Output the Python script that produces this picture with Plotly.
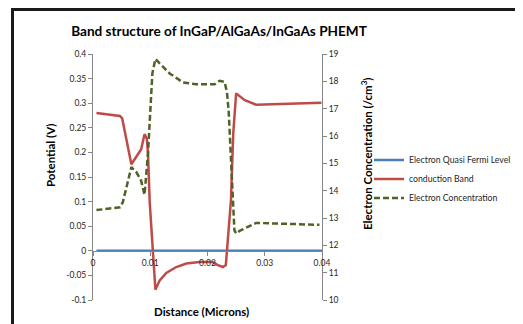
import plotly.graph_objects as go

# ---- data ----
fermi_x = [0.0006, 0.0100, 0.0200, 0.0300, 0.0400]
fermi_y = [0, 0, 0, 0, 0]

band_x = [0.0006, 0.0047, 0.0051, 0.0067, 0.0084, 0.0090, 0.0094, 0.0096, 0.0099,
          0.01045, 0.0107, 0.0109, 0.01165, 0.0128, 0.01455, 0.0163, 0.0186, 0.0209,
          0.0218, 0.0227, 0.0232, 0.0234, 0.0241, 0.0245, 0.0250, 0.0265, 0.0285, 0.0399]
band_y = [0.280, 0.274, 0.269, 0.176, 0.206, 0.237, 0.228, 0.200, 0.100,
          0.000, -0.060, -0.079, -0.060, -0.045, -0.033, -0.026, -0.023, -0.023,
          -0.029, -0.033, -0.029, 0.000, 0.103, 0.239, 0.320, 0.306, 0.297, 0.301]

conc_x = [0.0006, 0.0047, 0.0052, 0.0067, 0.0076, 0.0084, 0.0090, 0.0096, 0.01037,
          0.0109, 0.01164, 0.01339, 0.01571, 0.01805, 0.02124, 0.02211, 0.02298,
          0.0234, 0.0237, 0.0241, 0.0244, 0.0247, 0.02503, 0.0256, 0.02852, 0.03084, 0.03956]
conc_y = [13.29, 13.39, 13.57, 14.86, 14.67, 14.37, 13.85, 15.35, 18.29,
          18.82, 18.66, 18.29, 17.96, 17.89, 17.89, 18.02, 17.98,
          17.60, 16.90, 15.30, 13.60, 12.55, 12.43, 12.53, 12.82, 12.81, 12.75]

left_ticks = [-0.1, -0.05, 0, 0.05, 0.1, 0.15, 0.2, 0.25, 0.3, 0.35, 0.4]
left_labels = ["-0.1", "-0.05", "0", "0.05", "0.1", "0.15", "0.2", "0.25", "0.3", "0.35", "0.4"]
right_ticks = [10, 11, 12, 13, 14, 15, 16, 17, 18, 19]
x_ticks = [0, 0.01, 0.02, 0.03, 0.04]
x_labels = ["0", "0.01", "0.02", "0.03", "0.04"]

FONT = "Lato"
TXT = "#262626"
AX = "#868686"

# the page body adds an 8px offset, so the figure is 8px smaller and shifted
W, H = 515, 316
OFF = 8

fig = go.Figure()
fig.add_trace(go.Scatter(x=fermi_x, y=fermi_y, mode="lines", name="Electron Quasi Fermi Level",
                         line=dict(color="#4A7EBB", width=2.5), yaxis="y"))
fig.add_trace(go.Scatter(x=band_x, y=band_y, mode="lines", name="conduction Band",
                         line=dict(color="#BE4B48", width=2.5), yaxis="y"))
fig.add_trace(go.Scatter(x=conc_x, y=conc_y, mode="lines", name="Electron Concentration",
                         line=dict(color="#4F6228", width=2.5, dash="6px,3px"), yaxis="y2"))

fig.update_layout(
    width=W, height=H,
    margin=dict(l=93 - OFF, r=201, t=54 - OFF, b=24, autoexpand=False),
    paper_bgcolor="white", plot_bgcolor="white",
    font=dict(family=FONT, size=8.5, color=TXT),
    showlegend=True,
    title=dict(text="<b>Band structure of InGaP/AlGaAs/InGaAs PHEMT</b>",
               x=(219 - OFF) / W, xanchor="center", xref="container",
               y=1 - (31 - OFF) / H, yanchor="middle", yref="container",
               font=dict(family=FONT, size=13.6, color="#000000")),
    xaxis=dict(range=[0, 0.04], tickvals=x_ticks, ticktext=x_labels,
               anchor="free", position=0.2, showline=True, linecolor=AX, linewidth=1,
               ticks="outside", ticklen=4, tickcolor=AX, showgrid=False, zeroline=False,
               tickfont=dict(family=FONT, size=8.5, color=TXT)),
    yaxis=dict(range=[-0.1, 0.4], tickvals=left_ticks, ticktext=left_labels,
               showline=True, linecolor=AX, linewidth=1, ticks="outside", ticklen=4,
               tickcolor=AX, showgrid=False, zeroline=False,
               tickfont=dict(family=FONT, size=8.5, color=TXT)),
    yaxis2=dict(range=[10, 19], tickvals=right_ticks, overlaying="y", side="right",
                anchor="x", showline=True, linecolor=AX, linewidth=1, ticks="outside",
                ticklen=4, tickcolor=AX, showgrid=False, zeroline=False,
                tickfont=dict(family=FONT, size=8.5, color=TXT)),
    legend=dict(x=(369 - 93) / 229, xanchor="left", y=1 - (179 - 54) / 246, yanchor="middle",
                font=dict(family=FONT, size=8.7, color=TXT), bgcolor="rgba(0,0,0,0)",
                tracegroupgap=0, borderwidth=0),
)

fig.add_annotation(text="<b>Potential (V)</b>", textangle=-90, showarrow=False,
                   xref="paper", yref="paper", x=(50 - 93) / 229, y=1 - (155 - 54) / 246,
                   xanchor="center", yanchor="middle",
                   font=dict(family=FONT, size=11.5, color="#000000"))
fig.add_annotation(text="<b>Electron Concentration (/cm<sup>3</sup>)</b>", textangle=-90,
                   showarrow=False, xref="paper", yref="paper",
                   x=(366 - 93) / 229, y=1 - (154 - 54) / 246,
                   xanchor="center", yanchor="middle",
                   font=dict(family=FONT, size=11.5, color="#000000"))
fig.add_annotation(text="<b>Distance (Microns)</b>", showarrow=False,
                   xref="paper", yref="paper", x=(201 - 93) / 229, y=1 - (311 - 54) / 246,
                   xanchor="center", yanchor="middle",
                   font=dict(family=FONT, size=11.5, color="#000000"))

# chart-area frame (left and top edges visible in the reference)
top_y = 1 + (54 - 9.5) / 246
fig.add_shape(type="line", xref="paper", yref="paper",
              x0=(12.5 - 93) / 229, x1=(12.5 - 93) / 229, y0=top_y + 0.006, y1=-0.3,
              line=dict(color="#1a1a1a", width=3))
fig.add_shape(type="line", xref="paper", yref="paper",
              x0=(11 - 93) / 229, x1=2.0, y0=top_y, y1=top_y,
              line=dict(color="#1a1a1a", width=3))

fig.write_html("out.html")
